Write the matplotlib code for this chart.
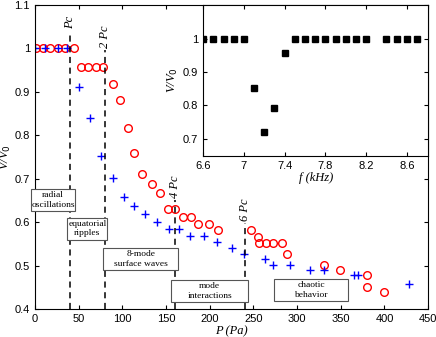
import numpy as np
import matplotlib.pyplot as plt
from matplotlib.patches import Rectangle

# main data: V/V0 vs applied pressure P (Pa)
p_red = [1, 9, 17, 26, 35, 45, 53, 61, 70, 78, 89, 97, 107, 113,
         123, 134, 143, 152, 160, 170, 179, 187, 199, 210,
         247, 255, 257, 264, 272, 283, 289, 331, 349, 380, 380, 399]
v_red = [1.0, 1.0, 1.0, 1.0, 1.002, 1.0, 0.957, 0.957, 0.957, 0.957, 0.918, 0.882, 0.818, 0.760,
         0.711, 0.688, 0.668, 0.631, 0.631, 0.613, 0.613, 0.596, 0.596, 0.581,
         0.581, 0.565, 0.552, 0.552, 0.552, 0.552, 0.526, 0.502, 0.490, 0.479, 0.450, 0.439]

p_blue = [0, 12, 26, 37, 50, 63, 76, 89, 102, 113, 126, 140, 153, 165,
          178, 193, 208, 225, 239, 263, 273, 292, 315, 331, 365, 370, 428]
v_blue = [1.0, 1.0, 1.0, 1.0, 0.912, 0.840, 0.753, 0.701, 0.658, 0.638, 0.619, 0.601, 0.585, 0.585,
          0.569, 0.569, 0.555, 0.540, 0.526, 0.515, 0.502, 0.502, 0.490, 0.490, 0.479, 0.479, 0.458]

# critical pressure lines
pc_x = [40, 80, 160, 240]
pc_top = [1.04, 0.997, 0.651, 0.598]
pc_labels = ['Pc', '2 Pc', '4 Pc', '6 Pc']

# regime boxes (centre, width in Pa)
regimes = ['radial\noscillations', 'equatorial\nripples', '8-mode\nsurface waves',
           'mode\ninteractions', 'chaotic\nbehavior']
regime_x = [21, 60, 121, 200, 316]
regime_y = [0.651, 0.585, 0.515, 0.442, 0.444]
regime_w = [50, 46, 85, 88, 85]
box_h = 0.051

# inset: V/V0 vs frequency
f_khz = [6.6, 6.7, 6.8, 6.9, 7.0, 7.1, 7.2, 7.3, 7.4, 7.5, 7.6, 7.7, 7.8, 7.9,
         8.0, 8.1, 8.2, 8.4, 8.5, 8.6, 8.7]
v_f = [1.0, 1.0, 1.0, 1.0, 1.0, 0.851, 0.72, 0.793, 0.957, 1.0, 1.0, 1.0, 1.0, 1.0,
       1.0, 1.0, 1.0, 1.0, 1.0, 1.0, 1.0]

serif = 'Liberation Serif'
plt.rcParams['font.family'] = 'Liberation Sans'

fig = plt.figure(figsize=(4.36, 3.37), dpi=100)
ax = fig.add_axes([0.080, 0.083, 0.902, 0.902])

ax.plot(p_red, v_red, 'o', mfc='none', mec='red', ms=5.5, mew=1.0)
ax.plot(p_blue, v_blue, '+', color='blue', ms=6, mew=1.0)

for x, top, lab in zip(pc_x, pc_top, pc_labels):
    ax.plot([x, x], [0.4, top], '--', color='black', lw=1.1, dashes=(4, 3))
    ax.text(x, top + 0.005, lab, rotation=90, ha='center', va='bottom',
            family=serif, style='italic', fontsize=9)

for lab, x, y, w in zip(regimes, regime_x, regime_y, regime_w):
    ax.add_patch(Rectangle((x - w / 2, y - box_h / 2), w, box_h, fc='white',
                           ec='#555555', lw=0.8, clip_on=False, zorder=3))
    ax.text(x, y, lab, ha='center', va='center', family=serif, fontsize=6.8,
            linespacing=1.25, zorder=4)

ax.set_xlim(0, 450)
ax.set_ylim(0.4, 1.1)
ax.set_xticks(np.arange(0, 451, 50))
ax.set_yticks(np.arange(0.4, 1.11, 0.1))
ax.set_yticklabels(['0.4', '0.5', '0.6', '0.7', '0.8', '0.9', '1', '1.1'])
ax.tick_params(direction='in', top=True, right=True, labelsize=8, length=3)
ax.set_xlabel('P (Pa)', family=serif, style='italic', fontsize=9, labelpad=1)
ax.set_ylabel('V/V$_0$', family=serif, style='italic', fontsize=9, labelpad=1)

# inset
ins = fig.add_axes([0.466, 0.538, 0.516, 0.447])
ins.plot(f_khz, v_f, 's', color='black', ms=4)
ins.set_xlim(6.6, 8.81)
ins.set_ylim(0.65, 1.1)
ins.set_xticks([6.6, 7, 7.4, 7.8, 8.2, 8.6])
ins.set_xticklabels(['6.6', '7', '7.4', '7.8', '8.2', '8.6'])
ins.set_yticks([0.7, 0.8, 0.9, 1.0])
ins.set_yticklabels(['0.7', '0.8', '0.9', '1'])
ins.tick_params(direction='in', top=True, right=True, labelsize=8, length=3)
ins.set_xlabel('f (kHz)', family=serif, style='italic', fontsize=9, labelpad=1)
ins.set_ylabel('V/V$_0$', family=serif, style='italic', fontsize=9, labelpad=2)

fig.savefig('out.png', dpi=100)
